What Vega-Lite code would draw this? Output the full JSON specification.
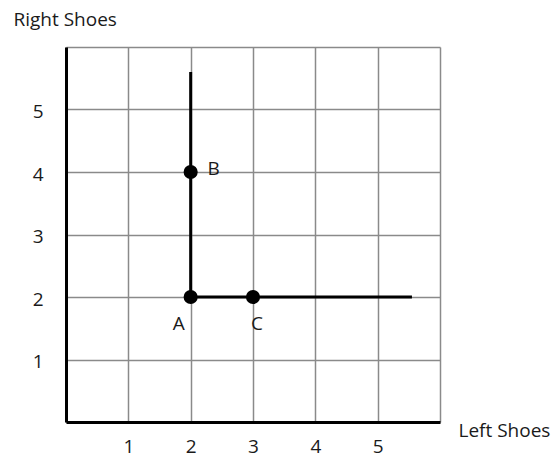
{
  "$schema": "https://vega.github.io/schema/vega-lite/v6.json",
  "width": 374,
  "height": 375,
  "autosize": {"type": "none"},
  "padding": {"left": 66, "top": 47, "right": 116, "bottom": 37},
  "background": "white",
  "config": {
    "view": {"stroke": null},
    "font": "Open Sans",
    "axis": {
      "labelFont": "Open Sans",
      "titleFont": "Open Sans",
      "labelFontSize": 19,
      "titleFontSize": 19,
      "labelColor": "#1a1a1a",
      "titleColor": "#1a1a1a",
      "titleFontWeight": "normal",
      "domainColor": "#000000",
      "domainWidth": 3,
      "gridColor": "#8a8a8a",
      "gridWidth": 1.5,
      "gridOpacity": 1,
      "ticks": false
    }
  },
  "datasets": {
    "lines": [
      {"x": 2, "y": 2, "x2": 2, "y2": 5.6},
      {"x": 2, "y": 2, "x2": 5.55, "y2": 2}
    ],
    "points": [
      {"label": "A", "x": 2, "y": 2},
      {"label": "B", "x": 2, "y": 4},
      {"label": "C", "x": 3, "y": 2}
    ]
  },
  "layer": [
    {
      "data": {"name": "lines"},
      "mark": {"type": "rule", "color": "#000000", "strokeWidth": 3},
      "encoding": {
        "x": {
          "field": "x", "type": "quantitative",
          "scale": {"domain": [0, 6], "nice": false, "zero": false},
          "axis": {
            "values": [0, 1, 2, 3, 4, 5, 6],
            "format": "d",
            "labelExpr": "datum.value >= 1 && datum.value <= 5 ? datum.label : ''",
            "labelPadding": 15,
            "labelBaseline": "top",
            "title": "Left Shoes",
            "titleX": 392,
            "titleY": 14,
            "titleAlign": "left",
            "titleBaseline": "alphabetic",
            "titleAnchor": null
          }
        },
        "x2": {"field": "x2"},
        "y": {
          "field": "y", "type": "quantitative",
          "scale": {"domain": [0, 6], "nice": false, "zero": false},
          "axis": {
            "values": [0, 1, 2, 3, 4, 5, 6],
            "format": "d",
            "labelExpr": "datum.value >= 1 && datum.value <= 5 ? datum.label : ''",
            "labelPadding": 23,
            "labelOffset": 2,
            "title": "Right Shoes",
            "titleAngle": 0,
            "titleX": -53,
            "titleY": -22,
            "titleAlign": "left",
            "titleBaseline": "alphabetic",
            "titleAnchor": null
          }
        },
        "y2": {"field": "y2"}
      }
    },
    {
      "data": {"name": "points"},
      "mark": {"type": "circle", "color": "#000000", "size": 200, "opacity": 1},
      "encoding": {
        "x": {"field": "x", "type": "quantitative"},
        "y": {"field": "y", "type": "quantitative"}
      }
    },
    {
      "data": {"name": "points"},
      "transform": [{"filter": "datum.label === 'A'"}],
      "mark": {"type": "text", "fontSize": 19, "font": "Open Sans", "color": "#1a1a1a", "dx": -12, "dy": 27, "align": "center", "baseline": "middle"},
      "encoding": {
        "x": {"field": "x", "type": "quantitative"},
        "y": {"field": "y", "type": "quantitative"},
        "text": {"field": "label"}
      }
    },
    {
      "data": {"name": "points"},
      "transform": [{"filter": "datum.label === 'B'"}],
      "mark": {"type": "text", "fontSize": 19, "font": "Open Sans", "color": "#1a1a1a", "dx": 23, "dy": -3, "align": "center", "baseline": "middle"},
      "encoding": {
        "x": {"field": "x", "type": "quantitative"},
        "y": {"field": "y", "type": "quantitative"},
        "text": {"field": "label"}
      }
    },
    {
      "data": {"name": "points"},
      "transform": [{"filter": "datum.label === 'C'"}],
      "mark": {"type": "text", "fontSize": 19, "font": "Open Sans", "color": "#1a1a1a", "dx": 4, "dy": 27, "align": "center", "baseline": "middle"},
      "encoding": {
        "x": {"field": "x", "type": "quantitative"},
        "y": {"field": "y", "type": "quantitative"},
        "text": {"field": "label"}
      }
    }
  ]
}
